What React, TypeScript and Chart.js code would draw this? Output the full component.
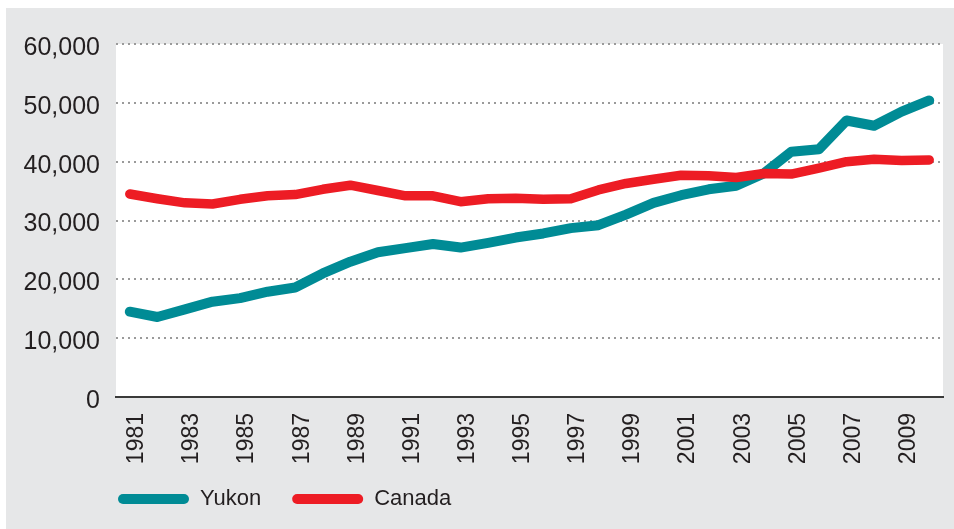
import React, { useEffect, useRef } from "react";
import { Chart, registerables } from "chart.js";

Chart.register(...registerables);

const years = [
  "1981", "1982", "1983", "1984", "1985", "1986", "1987", "1988", "1989", "1990",
  "1991", "1992", "1993", "1994", "1995", "1996", "1997", "1998", "1999", "2000",
  "2001", "2002", "2003", "2004", "2005", "2006", "2007", "2008", "2009", "2010",
];

const yukon = [
  14500, 13600, 14900, 16200, 16800, 17900, 18600, 21000, 23000, 24600,
  25300, 26000, 25400, 26200, 27100, 27800, 28700, 29200, 31000, 33000,
  34300, 35300, 35900, 38000, 41700, 42100, 47000, 46100, 48500, 50400,
];

const canada = [
  34500, 33700, 33000, 32800, 33600, 34200, 34400, 35300, 36000, 35100,
  34200, 34200, 33200, 33700, 33800, 33600, 33700, 35200, 36300, 37000,
  37700, 37600, 37300, 38000, 37900, 38900, 40000, 40400, 40200, 40300,
];

const seriesNames = ["Yukon", "Canada"];
const seriesColors = ["#008b95", "#ed1c24"];

const yMin = 0;
const yMax = 60000;
const yStep = 10000;

const FONT = "'Liberation Sans', Arial, sans-serif";
const TEXT = "#231f20";
const BG = "#e6e7e8";

const plotBg = {
  id: "plotBg",
  beforeDraw(chart: any) {
    const { ctx, chartArea } = chart;
    ctx.save();
    ctx.fillStyle = "#ffffff";
    ctx.fillRect(chartArea.left, chartArea.top, chartArea.right - chartArea.left, chartArea.bottom - chartArea.top);
    ctx.restore();
  },
};

// place the legend block where the reference has it
const legendPlace = {
  id: "legendPlace",
  afterLayout(chart: any) {
    const lg = chart.legend;
    if (!lg) return;
    const dx = 81 - lg.left;
    lg.left += dx;
    lg.right += dx;
    const dy = 449 - lg.top;
    lg.top += dy;
    lg.bottom += dy;
  },
};

export default function App() {
  const ref = useRef<HTMLCanvasElement | null>(null);

  useEffect(() => {
    if (!ref.current) return;
    const chart = new Chart(ref.current, {
      type: "line",
      data: {
        labels: years,
        datasets: [
          {
            label: seriesNames[0],
            data: yukon,
            borderColor: seriesColors[0],
            backgroundColor: seriesColors[0],
            borderWidth: 10,
            pointRadius: 0,
            borderCapStyle: "round",
            borderJoinStyle: "round",
            tension: 0,
            order: 1,
          },
          {
            label: seriesNames[1],
            data: canada,
            borderColor: seriesColors[1],
            backgroundColor: seriesColors[1],
            borderWidth: 9.5,
            pointRadius: 0,
            borderCapStyle: "round",
            borderJoinStyle: "round",
            tension: 0,
            order: 0,
          },
        ],
      },
      options: {
        responsive: false,
        animation: false,
        locale: "en-US",
        layout: { padding: { left: 0, right: 11, top: 36, bottom: 3 } },
        plugins: {
          tooltip: { enabled: false },
          legend: {
            position: "bottom",
            align: "start",
            labels: {
              boxWidth: 71,
              boxHeight: 10,
              padding: 31,
              color: TEXT,
              font: { family: FONT, size: 22 },
              useBorderRadius: true,
              borderRadius: 5,
              generateLabels: () =>
                seriesNames.map((name, i) => ({
                  text: name,
                  fillStyle: seriesColors[i],
                  strokeStyle: seriesColors[i],
                  lineWidth: 0,
                  hidden: false,
                  datasetIndex: i,
                  borderRadius: 5,
                  fontColor: TEXT,
                })),
            },
          },
        },
        scales: {
          x: {
            offset: true,
            grid: { display: false, drawTicks: false },
            border: { display: true, color: "#3a3a3a", width: 2 },
            ticks: {
              autoSkip: false,
              minRotation: 90,
              maxRotation: 90,
              padding: 16,
              labelOffset: 7,
              color: TEXT,
              font: { family: FONT, size: 23 },
              callback: (_v: any, i: number) => (i % 2 === 0 ? years[i] : ""),
            },
            afterFit: (s: any) => {
              s.height = 66;
              s.paddingLeft = 0;
              s.paddingRight = 0;
            },
          },
          y: {
            min: yMin,
            max: yMax,
            grid: {
              drawTicks: false,
              lineWidth: 2,
              color: (c: any) => (c.tick && c.tick.value === 0 ? "rgba(0,0,0,0)" : "#9a9a9a"),
            },
            border: { display: false, dash: [2, 4] },
            ticks: {
              stepSize: yStep,
              padding: 16,
              labelOffset: 4,
              color: TEXT,
              font: { family: FONT, size: 25 },
            },
            afterFit: (s: any) => {
              s.width = 110;
            },
          },
        },
      },
      plugins: [plotBg, legendPlace],
    } as any);
    return () => chart.destroy();
  }, []);

  return (
    <div
      style={{
        position: "absolute",
        left: 6,
        top: 8,
        width: 948,
        height: 521,
        background: BG,
      }}
    >
      <canvas ref={ref} width={948} height={521} style={{ display: "block" }} />
    </div>
  );
}
